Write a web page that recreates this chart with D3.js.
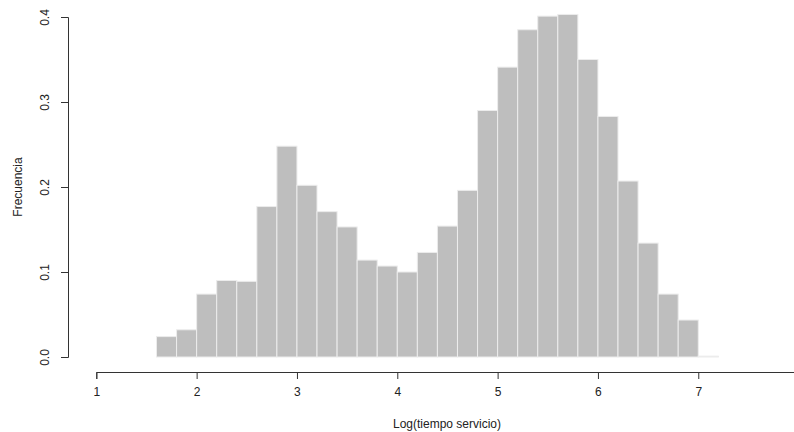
<!DOCTYPE html>
<html>
<head>
<meta charset="utf-8">
<script src="https://cdn.jsdelivr.net/npm/d3@7"></script>
<style>
  body { margin: 0; background: #fff; }
  text { font-family: "Liberation Sans", Arial, sans-serif; fill: #222; }
</style>
</head>
<body>
<div id="chart"></div>
<script>
// histogram bins (lower edges) and densities
var binStarts = [1.6, 1.8, 2.0, 2.2, 2.4, 2.6, 2.8, 3.0, 3.2, 3.4, 3.6, 3.8, 4.0, 4.2,
                 4.4, 4.6, 4.8, 5.0, 5.2, 5.4, 5.6, 5.8, 6.0, 6.2, 6.4, 6.6, 6.8, 7.0];
var binWidth = 0.2;
var densities = [0.024, 0.032, 0.074, 0.090, 0.089, 0.177, 0.248, 0.202, 0.171, 0.153,
                 0.114, 0.107, 0.100, 0.123, 0.154, 0.196, 0.290, 0.341, 0.385, 0.401,
                 0.403, 0.350, 0.283, 0.207, 0.134, 0.074, 0.0435, 0.001];
var xTicks = [1, 2, 3, 4, 5, 6, 7, 8];
var yTicks = [0, 0.1, 0.2, 0.3, 0.4];

var width = 794, height = 432;

var svg = d3.select("#chart").append("svg")
    .attr("width", width)
    .attr("height", height);

var x = d3.scaleLinear().domain([1, 8]).range([96.3, 798.6]);
var y = d3.scaleLinear().domain([0, 0.4]).range([357, 17]);

var bins = binStarts.map(function(d, i){
    return {x0: d, x1: d + binWidth, density: densities[i]};
});

svg.selectAll(".bar")
    .data(bins)
    .enter().append("rect")
    .attr("class", "bar")
    .attr("x", function(d){ return x(d.x0); })
    .attr("width", function(d){ return x(d.x1) - x(d.x0); })
    .attr("y", function(d){ return y(d.density); })
    .attr("height", function(d){ return y(0) - y(d.density); })
    .attr("fill", "#bebebe")
    .attr("stroke", "#ececec")
    .attr("stroke-width", 1);

// x axis
var xAxis = svg.append("g")
    .attr("transform", "translate(0,372)")
    .call(d3.axisBottom(x).tickValues(xTicks).tickFormat(d3.format("d")).tickSize(7).tickPadding(8));
xAxis.select(".domain").attr("stroke", "#333");
xAxis.selectAll(".tick line").attr("stroke", "#333");
xAxis.selectAll("text").style("font-size", "12px").style("fill", "#222");

// y axis
var yAxis = svg.append("g")
    .attr("transform", "translate(68,0)")
    .call(d3.axisLeft(y).tickValues(yTicks).tickFormat(d3.format(".1f")).tickSize(7));
yAxis.select(".domain").attr("stroke", "#333");
yAxis.selectAll(".tick line").attr("stroke", "#333");
yAxis.selectAll("text")
    .style("font-size", "12px")
    .style("fill", "#222")
    .attr("text-anchor", "middle")
    .attr("x", 0)
    .attr("dy", 0)
    .attr("transform", "translate(-19,0) rotate(-90)");

// axis titles
svg.append("text")
    .attr("x", 447)
    .attr("y", 428)
    .attr("text-anchor", "middle")
    .style("font-size", "12px")
    .text("Log(tiempo servicio)");

svg.append("text")
    .attr("transform", "translate(22,187) rotate(-90)")
    .attr("text-anchor", "middle")
    .style("font-size", "12px")
    .text("Frecuencia");
</script>
</body>
</html>
